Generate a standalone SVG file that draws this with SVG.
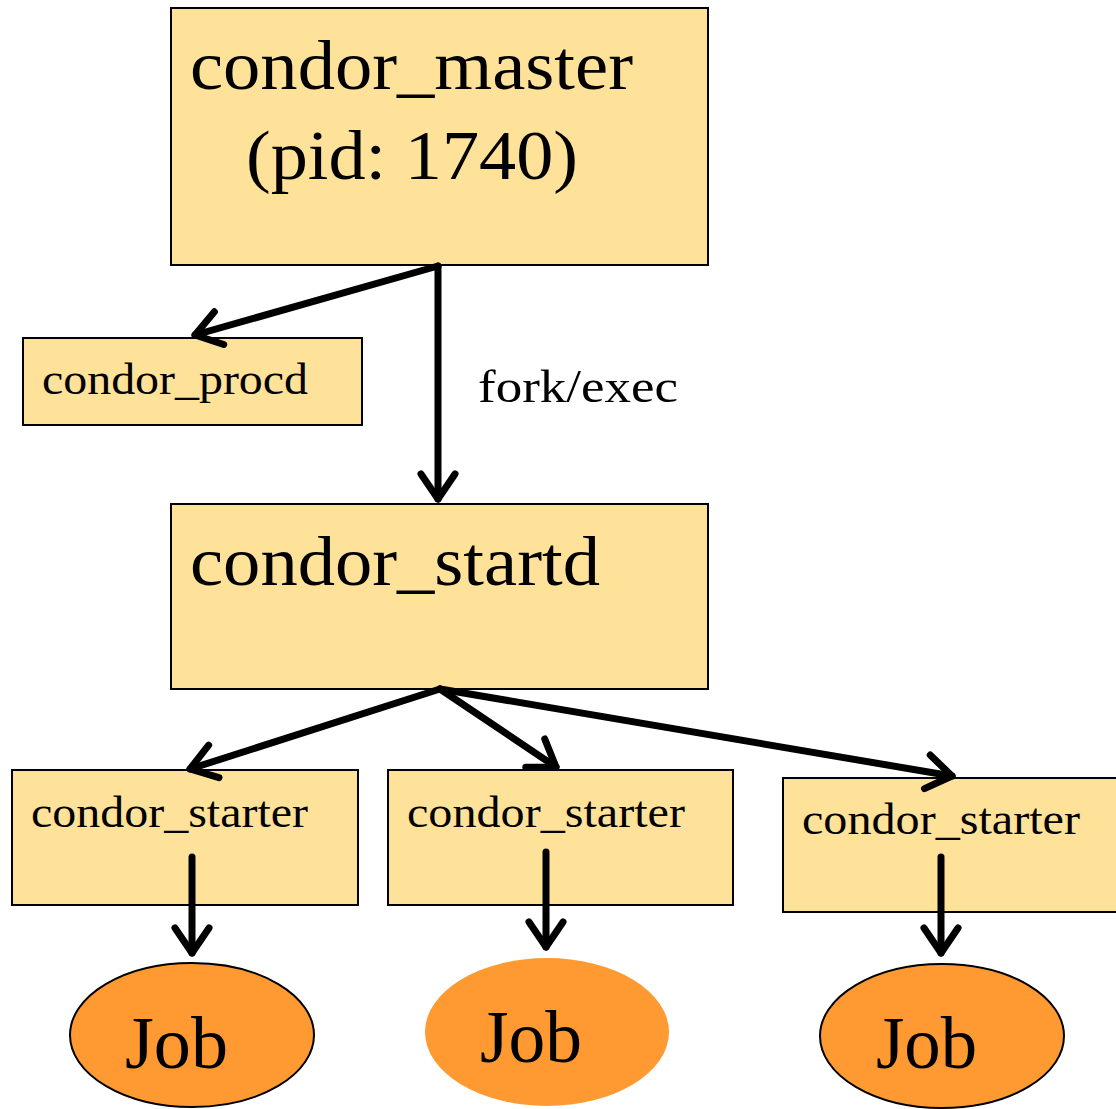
<svg xmlns="http://www.w3.org/2000/svg" width="1116" height="1109" viewBox="0 0 1116 1109">
<style>
.box{fill:#FFE299;stroke:#000;stroke-width:2}
.job{fill:#FF9A33;stroke:#000;stroke-width:2}
.t{font-family:"Liberation Serif","Times New Roman",serif;fill:#000}
.big{font-size:70px}
.mid{font-size:44px}
.fe{font-size:46px}
.jt{font-size:75px}
.c{stroke:#000;stroke-width:7;fill:none;stroke-linecap:round}
</style>
<defs>
<marker id="ah" markerUnits="userSpaceOnUse" markerWidth="60" markerHeight="60" refX="30" refY="30" orient="auto" viewBox="0 0 60 60">
<path d="M5,13 L30,30 L5,47" fill="none" stroke="#000" stroke-width="7" stroke-linecap="round" stroke-linejoin="round"/>
</marker>
</defs>
<rect width="1116" height="1109" fill="#fff"/>
<g id="master"><rect class="box" x="171" y="8" width="537" height="257"/>
<text class="t big" x="190" y="89" textLength="443" lengthAdjust="spacingAndGlyphs">condor_master</text>
<text class="t big" x="246" y="179" textLength="332" lengthAdjust="spacingAndGlyphs">(pid: 1740)</text></g>
<g id="procd"><rect class="box" x="23" y="338" width="339" height="87"/>
<text class="t mid" x="42" y="394" textLength="266" lengthAdjust="spacingAndGlyphs">condor_procd</text></g>
<g id="startd"><rect class="box" x="171" y="504" width="537" height="185"/>
<text class="t big" x="190" y="585" textLength="410" lengthAdjust="spacingAndGlyphs">condor_startd</text></g>
<g id="starter1"><rect class="box" x="12" y="770" width="346" height="135"/>
<text class="t mid" x="31" y="827" textLength="277" lengthAdjust="spacingAndGlyphs">condor_starter</text></g>
<g id="starter2"><rect class="box" x="388" y="770" width="345" height="135"/>
<text class="t mid" x="407" y="827" textLength="278" lengthAdjust="spacingAndGlyphs">condor_starter</text></g>
<g id="starter3"><rect class="box" x="783" y="778" width="340" height="134"/>
<text class="t mid" x="802" y="834" textLength="278" lengthAdjust="spacingAndGlyphs">condor_starter</text></g>
<g id="job1"><ellipse class="job" cx="192" cy="1035" rx="122" ry="72"/>
<text class="t jt" x="125" y="1068" textLength="103" lengthAdjust="spacingAndGlyphs">Job</text></g>
<g id="job2"><ellipse cx="547" cy="1032" rx="122" ry="74" fill="#FF9A33"/>
<text class="t jt" x="480" y="1062" textLength="102" lengthAdjust="spacingAndGlyphs">Job</text></g>
<g id="job3"><ellipse class="job" cx="942" cy="1036" rx="122" ry="72"/>
<text class="t jt" x="876" y="1068" textLength="101" lengthAdjust="spacingAndGlyphs">Job</text></g>
<g id="connectors">
<line class="c" x1="438" y1="266" x2="195" y2="335" marker-end="url(#ah)"/>
<line class="c" x1="438" y1="266" x2="438" y2="499" marker-end="url(#ah)"/>
<text class="t fe" x="478" y="402" textLength="200" lengthAdjust="spacingAndGlyphs">fork/exec</text>
<line class="c" x1="440" y1="689" x2="190" y2="769" marker-end="url(#ah)"/>
<line class="c" x1="440" y1="689" x2="556" y2="767" marker-end="url(#ah)"/>
<line class="c" x1="440" y1="689" x2="952" y2="776" marker-end="url(#ah)"/>
<line class="c" x1="192" y1="857" x2="192" y2="953" marker-end="url(#ah)"/>
<line class="c" x1="546" y1="852" x2="546" y2="947" marker-end="url(#ah)"/>
<line class="c" x1="941" y1="857" x2="941" y2="953" marker-end="url(#ah)"/>
</g>
</svg>
